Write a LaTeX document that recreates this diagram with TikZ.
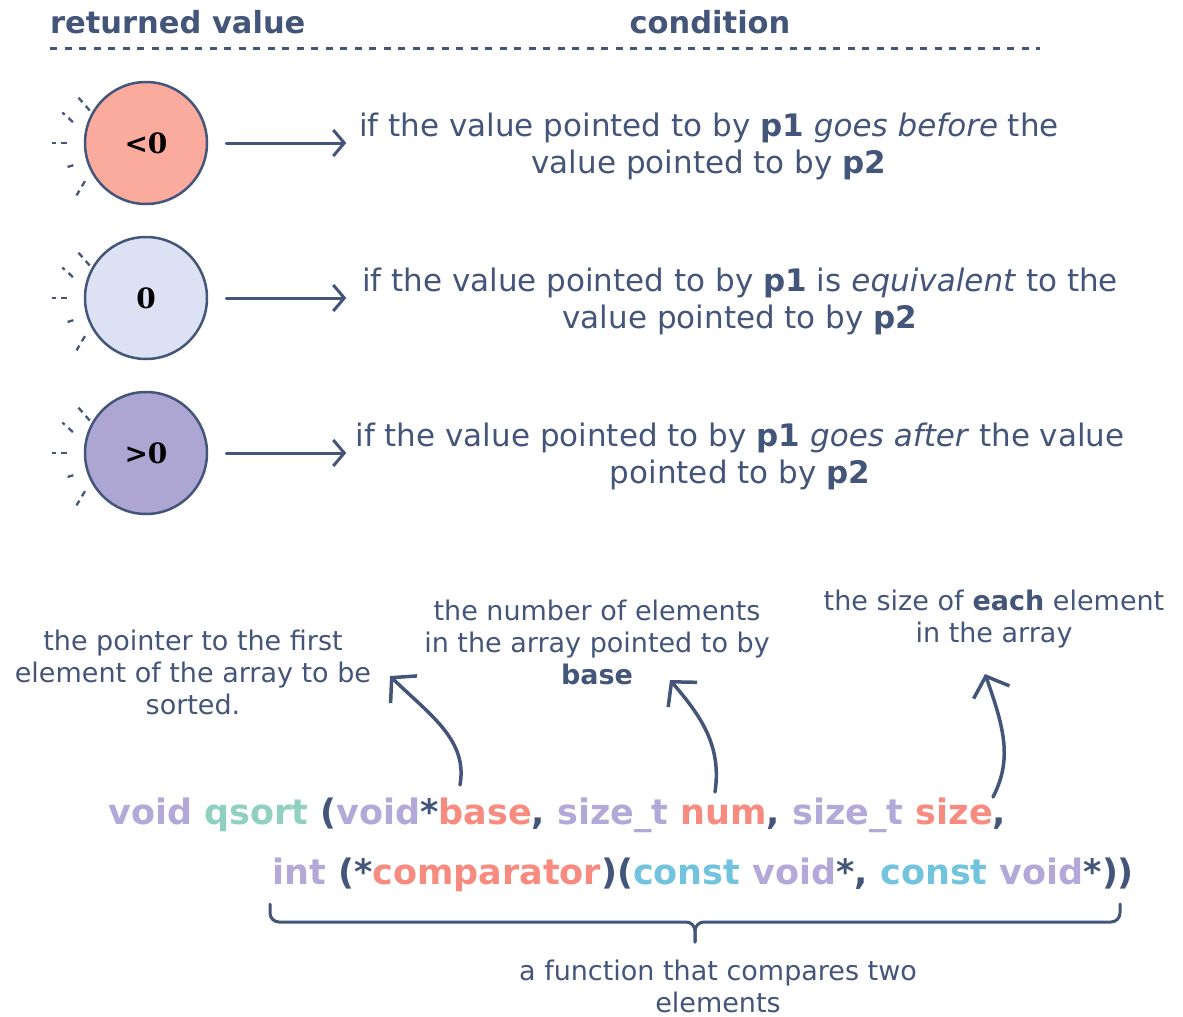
\documentclass[tikz,border=0pt]{standalone}
\usepackage{fontspec}
\setmainfont{DejaVu Sans}
\newfontfamily\valfont{DejaVu Serif}
\usetikzlibrary{arrows.meta, positioning, calc}
\definecolor{inkBlue}{HTML}{44557A}
\definecolor{ltPink}{HTML}{FBAA9E}
\definecolor{ltBlue}{HTML}{DCE2F3}
\definecolor{ltPurple}{HTML}{ADA5D2}
\definecolor{codePurple}{HTML}{B3A9D8}
\definecolor{codeTeal}{HTML}{8FD0C1}
\definecolor{codeSalmon}{HTML}{F88B7F}
\definecolor{codeCyan}{HTML}{72C4DE}

% coloured pieces of the prototype
\newcommand{\ty}[1]{\textcolor{codePurple}{#1}}
\newcommand{\fn}[1]{\textcolor{codeTeal}{#1}}
\newcommand{\ar}[1]{\textcolor{codeSalmon}{#1}}
\newcommand{\qu}[1]{\textcolor{codeCyan}{#1}}

\begin{document}
\begin{tikzpicture}[x=1pt, y=-1pt,
    txt/.style={text=inkBlue, align=center, inner sep=0pt,
                font=\fontsize{31}{37}\selectfont},
    note/.style={text=inkBlue, align=center, inner sep=0pt,
                 font=\fontsize{27}{32}\selectfont},
    head/.style={text=inkBlue, inner sep=0pt,
                 font=\fontsize{30.5}{34}\selectfont\bfseries},
    retval/.style={circle, draw=inkBlue, line width=2.5pt, minimum size=122pt,
                   inner sep=0pt, font=\valfont\bfseries\fontsize{28}{30}\selectfont},
    code/.style={text=inkBlue, inner sep=0pt, anchor=base west,
                 font=\fontsize{35}{40}\selectfont\bfseries},
    arrow/.style={-{Straight Barb[length=11pt, width=26pt, line width=3pt]},
                  line width=3pt, inkBlue, line cap=round},
    curvy/.style={-{Straight Barb[length=17pt, width=38pt, line width=3.5pt]},
                  line width=3.5pt, inkBlue, line cap=round},
    brace/.style={inkBlue, line width=3pt, rounded corners=9pt, line cap=round},
    ticks/.style={inkBlue, line width=2.3pt, dash pattern=on 6pt off 5pt}
  ]
  \useasboundingbox (0,0) rectangle (1183,1017);

  % header
  \node[head, anchor=west] (hval) at (50,22) {returned value};
  \node[head] (hcond) at (710,22) {condition};
  \draw[inkBlue, line width=3pt, dash pattern=on 7pt off 7.5pt] (50,48) -- (1040,48);

  % returned values
  \node[retval, fill=ltPink]   (lt) at (146,143) {<0};
  \node[retval, fill=ltBlue]   (eq) at (146,298) {0};
  \node[retval, fill=ltPurple] (gt) at (146,453) {>0};

  % little sketch strokes left of each circle (angle/radius in, angle/radius out)
  \foreach \c in {lt, eq, gt}
    \foreach \a/\ri/\b/\ro in {150/65/146/82, 164/76/160/89, 180/79/180/94,
                               197/76/197/84, 212/72/217/87}
      \draw[ticks] ($(\c)+(-\a:\ri)$) -- ($(\c)+(-\b:\ro)$);

  % conditions
  \node[txt] (c1) at (709,146) {if the value pointed to by \textbf{p1} \textit{goes before} the\\value pointed to by \textbf{p2}};
  \node[txt] (c2) at (740,301) {if the value pointed to by \textbf{p1} is \textit{equivalent} to the\\value pointed to by \textbf{p2}};
  \node[txt] (c3) at (740,456) {if the value pointed to by \textbf{p1} \textit{goes after} the value\\pointed to by \textbf{p2}};

  \draw[arrow] ([xshift=18pt]lt.east) -- ++(120,0);
  \draw[arrow] ([xshift=18pt]eq.east) -- ++(120,0);
  \draw[arrow] ([xshift=18pt]gt.east) -- ++(120,0);

  % prototype
  \node[code] (proto1) at (108,824) {\ty{void} \fn{qsort} (\ty{void}*\ar{base}, \ty{size\_t} \ar{num}, \ty{size\_t} \ar{size},};
  \node[code] (proto2) at (272,884) {\ty{int} (*\ar{comparator})(\qu{const} \ty{void}*, \qu{const} \ty{void}*))};

  % notes on the arguments
  \node[note] (ptr)  at (193,672) {the pointer to the first\\element of the array to be\\sorted.};
  \node[note] (num)  at (597,642) {the number of elements\\in the array pointed to by\\\textbf{base}};
  \node[note] (each) at (994,619) {the size of \textbf{each} element\\in the array};
  \node[note] (cmp)  at (718,986) {a function that compares two\\elements};

  \coordinate (sBase) at (460,785);
  \coordinate (sNum)  at (715,792);
  \coordinate (sSize) at (993,797);

  \draw[curvy] (sBase) .. controls (468,740) and (430,715) .. (390,676);
  \draw[curvy] (sNum)  .. controls (722,745) and (700,715) .. (670,680);
  \draw[curvy] (sSize) .. controls (1012,760) and (1005,730) .. (985,674);

  % brace under the comparator
  \coordinate (bTip) at (695,942);
  \draw[brace] (270,904) |- (695,922) -- (bTip);
  \draw[brace] (1120,904) |- (695,922) -- (bTip);
\end{tikzpicture}
\end{document}
